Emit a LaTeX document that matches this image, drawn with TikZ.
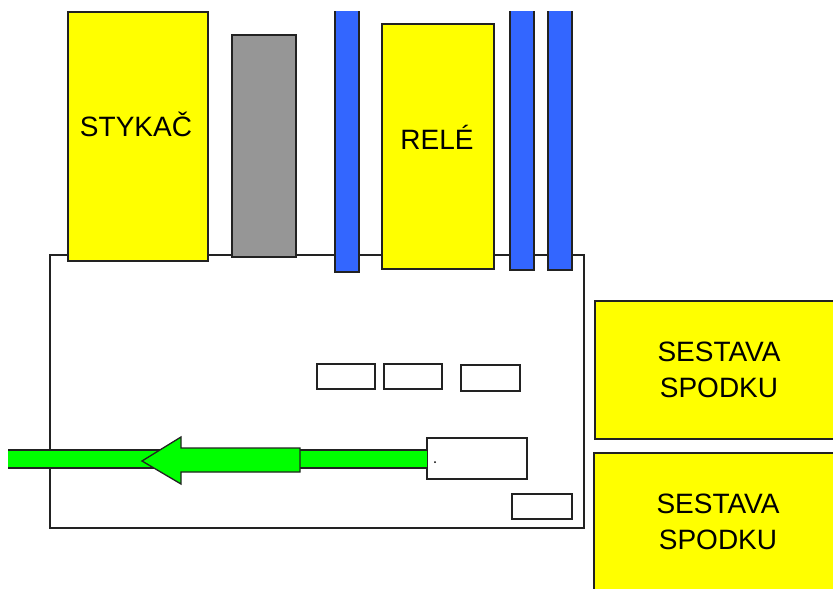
\documentclass[tikz,border=0pt]{standalone}
\usepackage{fontspec}
\setmainfont{Liberation Sans}
\definecolor{ylw}{HTML}{FFFF00}
\definecolor{gry}{HTML}{969696}
\definecolor{blu}{HTML}{3366FF}
\definecolor{grn}{HTML}{00FF00}
\definecolor{edge}{HTML}{222222}
\begin{document}
\begin{tikzpicture}[x=1pt,y=-1pt,
  box/.style={draw=edge, line width=1.3pt, inner sep=0pt, outer sep=0pt, anchor=north west},
  bar/.style={fill=blu, inner sep=0pt, outer sep=0pt, anchor=north west, minimum width=24pt},
  lbl/.style={font=\fontsize{28}{36.5}\selectfont, align=center, inner sep=0pt}]
\useasboundingbox (0,0) rectangle (833,589);
\fill[white] (0,0) rectangle (833,589);
\clip (0,0) rectangle (833,589);
% base plate
\node[box, fill=white, minimum width=534pt, minimum height=273pt] (base) at (50,255) {};
% top components
\node[box, fill=ylw, minimum width=140pt, minimum height=249pt] (stykac) at (68,12) {};
\node[lbl] (stykacT) at (136,124) {STYKAČ};
\node[box, fill=gry, minimum width=64pt, minimum height=222pt] (gray) at (232,35) {};
\node[bar, minimum height=261pt] (b1) at (335,11) {};
\draw[draw=edge, line width=1.3pt] (b1.north west) -- (b1.south west) -- (b1.south east) -- (b1.north east);
\node[box, fill=ylw, minimum width=112pt, minimum height=245pt] (rele) at (382,24) {};
\node[lbl] (releT) at (437,137) {RELÉ};
\node[bar, minimum height=259pt] (b2) at (510,11) {};
\draw[draw=edge, line width=1.3pt] (b2.north west) -- (b2.south west) -- (b2.south east) -- (b2.north east);
\node[bar, minimum height=259pt] (b3) at (548,11) {};
\draw[draw=edge, line width=1.3pt] (b3.north west) -- (b3.south west) -- (b3.south east) -- (b3.north east);
% small boxes
\node[box, fill=white, minimum width=58pt, minimum height=25pt] (s1) at (317,364) {};
\node[box, fill=white, minimum width=58pt, minimum height=25pt] (s2) at (384,364) {};
\node[box, fill=white, minimum width=59pt, minimum height=26pt] (s3) at (461,365) {};
\node[box, fill=white, minimum width=60pt, minimum height=25pt] (s4) at (512,494) {};
% green band and arrow
\node[box, fill=white, minimum width=100pt, minimum height=41pt] (src) at (427,438) {};
\coordinate (bandL) at (8,459);
\fill[grn] (bandL |- 0,450) rectangle (src.west |- 0,468);
\draw[draw=edge, line width=1.3pt] (bandL |- 0,450) -- (src.west |- 0,450)
  (bandL |- 0,468) -- (src.west |- 0,468);
\draw[draw=edge, fill=grn, line width=1.3pt, line join=miter]
  (142,461) -- (181,437) -- (181,448) -- (300,448) -- (300,472) -- (181,472) -- (181,484) -- cycle;
\fill[black] (435,462) circle (1pt);
% right assemblies
\node[box, fill=ylw, minimum width=260pt, minimum height=138pt] (sest1) at (595,301) {};
\node[lbl] (sest1T) at (719,370) {SESTAVA\\SPODKU};
\node[box, fill=ylw, minimum width=260pt, minimum height=160pt] (sest2) at (594,453) {};
\node[lbl] (sest2T) at (718,522) {SESTAVA\\SPODKU};
\end{tikzpicture}
\end{document}
